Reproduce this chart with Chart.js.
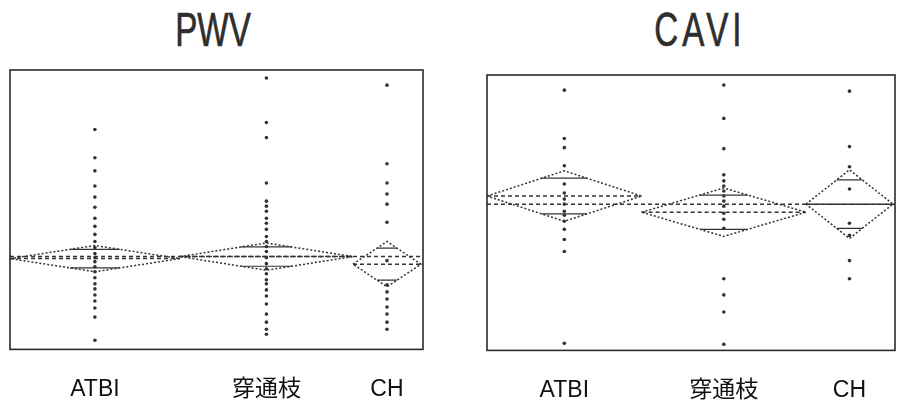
<!DOCTYPE html>
<html>
<head>
<meta charset="utf-8">
<title>PWV / CAVI</title>
<script src="https://cdn.jsdelivr.net/npm/chart.js@4.4.1/dist/chart.umd.min.js"></script>
<style>
  html, body { margin: 0; padding: 0; background: #fff; }
  #wrap { position: relative; width: 899px; height: 406px; overflow: hidden; }
  .title {
    position: absolute; top: 6px;
    font-family: "Liberation Sans", Arial, sans-serif;
    font-size: 48px; line-height: 48px; color: #2e2e2e;
    -webkit-text-stroke: 0.7px #2e2e2e;
    transform: translateX(-50%) scaleX(0.69);
    white-space: nowrap;
  }
  .box { position: absolute; top: 0; height: 436px; }
</style>
</head>
<body>
<div id="wrap">
  <div class="title" style="left:213px">PWV</div>
  <div class="title" style="left:700px;letter-spacing:6px">CAVI</div>
  <div class="box" style="left:0;width:440px"><canvas id="pwvChart"></canvas></div>
  <div class="box" style="left:440px;width:459px"><canvas id="caviChart"></canvas></div>
</div>

<script>
// ===== data =====
const categories = ['ATBI', '穿通枝', 'CH'];

// PWV (cm/s) - group sizes set the width of each diamond
const pwvN = [25, 25.5, 10];
const pwvMean = [1500, 1520, 1445];
const pwvCI = [130, 135, 225];
const pwvGrandMean = 1520;
const pwvAtbi = [2780, 2500, 2370, 2220, 2110, 2010, 1900, 1820, 1740, 1670, 1610, 1550, 1510, 1470, 1420, 1370, 1310, 1250, 1200, 1140, 1080, 1010, 920, 690];
const pwvPerf = [3290, 2850, 2700, 2250, 2070, 2020, 1970, 1900, 1850, 1790, 1720, 1670, 1620, 1570, 1510, 1450, 1400, 1350, 1290, 1250, 1190, 1130, 1050, 950, 870, 800, 750];
const pwvCh = [3220, 2440, 2250, 2140, 2040, 1860, 1480, 1240, 1170, 1100, 1020, 950, 870, 800];

// CAVI
const caviN = [16, 17, 9];
const caviMean = [10.12, 9.48, 9.8];
const caviCI = [1.0, 0.96, 1.36];
const caviGrandMean = 9.8;
const caviAtbi = [14.32, 12.4, 12.04, 11.32, 10.6, 10.24, 10.0, 9.8, 9.52, 9.36, 9.12, 8.8, 8.4, 7.92, 4.28];
const caviPerf = [14.52, 13.2, 12.0, 10.96, 10.72, 10.52, 10.32, 10.12, 9.92, 9.72, 9.44, 9.2, 8.84, 6.84, 6.2, 5.52, 4.24];
const caviCh = [14.28, 12.08, 11.28, 10.4, 9.04, 8.56, 7.56, 6.84];

// ===== helpers =====
const INK = '#333';

function line(points, dash, width) {
  return { data: points, showLine: true, pointRadius: 0, borderColor: INK,
           borderWidth: width || 1.5, borderDash: dash, fill: false, tension: 0 };
}

// means diamonds + overlap marks + raw points, one set per group
function buildDatasets(n, means, cis, grand, dots, xMax) {
  const ds = [];
  let start = 0;
  n.forEach((w, i) => {
    const end = start + w, mid = start + w / 2;
    const m = means[i], c = cis[i];
    ds.push(line([{x:start,y:m},{x:mid,y:m+c},{x:end,y:m},{x:mid,y:m-c},{x:start,y:m}], [2, 2]));
    ds.push(line([{x:start,y:m},{x:end,y:m}], [4, 3]));
    const off = c / Math.SQRT2, hw = (w / 2) * (1 - 1 / Math.SQRT2);
    ds.push(line([{x:mid-hw,y:m+off},{x:mid+hw,y:m+off}], [], 1.2));
    ds.push(line([{x:mid-hw,y:m-off},{x:mid+hw,y:m-off}], [], 1.2));
    ds.push({ data: dots[i].map(v => ({x: mid, y: v})), showLine: false,
              pointRadius: 1.8, pointBackgroundColor: INK, pointBorderWidth: 0 });
    start = end;
  });
  ds.push(line([{x:0,y:grand},{x:xMax,y:grand}], [4, 3]));
  return ds;
}

function centers(n) {
  let s = 0;
  return n.map(w => { const c = s + w / 2; s += w; return c; });
}

// frame around the plot area
const framePlugin = {
  id: 'frame',
  afterDraw(chart) {
    const a = chart.chartArea, ctx = chart.ctx;
    ctx.save();
    ctx.strokeStyle = '#2a2a2a';
    ctx.lineWidth = 1.6;
    ctx.strokeRect(a.left, a.top, a.right - a.left, a.bottom - a.top);
    ctx.restore();
  }
};

function makeChart(id, n, means, cis, grand, dots, yMin, yMax, padding) {
  const total = n.reduce((a, b) => a + b, 0);
  const xMax = total * 1.005;
  const ticksAt = centers(n);
  return new Chart(document.getElementById(id), {
    type: 'scatter',
    data: { datasets: buildDatasets(n, means, cis, grand, dots, xMax) },
    options: {
      responsive: true, maintainAspectRatio: false, animation: false,
      layout: { padding },
      plugins: { legend: { display: false }, tooltip: { enabled: false }, title: { display: false } },
      scales: {
        x: {
          type: 'linear', min: 0, max: xMax,
          grid: { display: false, drawTicks: false }, border: { display: false },
          afterBuildTicks: s => { s.ticks = ticksAt.map(v => ({ value: v })); },
          ticks: {
            autoSkip: false, maxRotation: 0, padding: 26, color: '#111',
            font: { family: '"Liberation Sans", Arial, "Noto Sans CJK JP", sans-serif', size: 23 },
            callback: (v, i) => categories[i]
          }
        },
        y: { display: false, min: yMin, max: yMax }
      }
    },
    plugins: [framePlugin]
  });
}

makeChart('pwvChart', pwvN, pwvMean, pwvCI, pwvGrandMean, [pwvAtbi, pwvPerf, pwvCh],
          600, 3370, { top: 70, left: 10, right: 17, bottom: 7 });
makeChart('caviChart', caviN, caviMean, caviCI, caviGrandMean, [caviAtbi, caviPerf, caviCh],
          4, 14.92, { top: 75, left: 47, right: 2, bottom: 6 });
</script>
</body>
</html>
